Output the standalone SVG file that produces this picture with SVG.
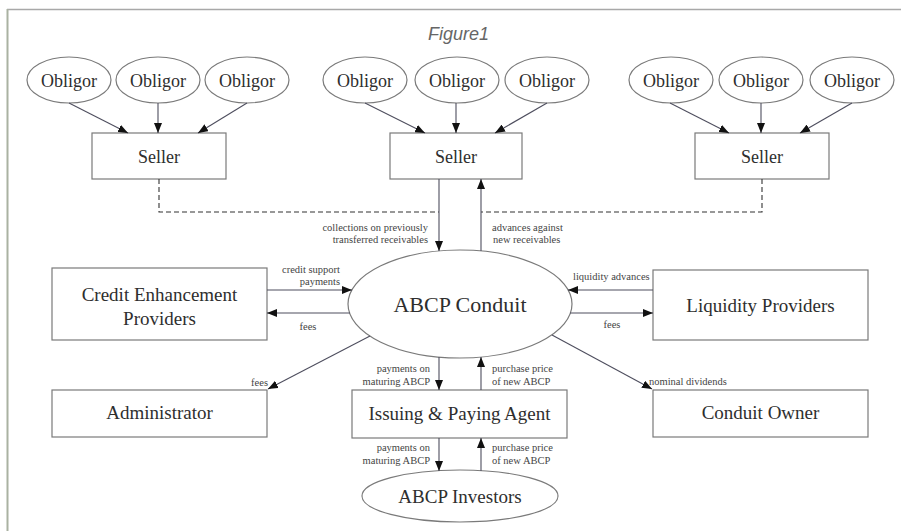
<svg xmlns="http://www.w3.org/2000/svg" width="901" height="531" viewBox="0 0 901 531">
<style>
.node{fill:#fff;stroke:#7a7a7a;stroke-width:1.2}
.t{font-family:"Liberation Serif","Times New Roman",serif;fill:#2e2e2e;text-anchor:middle}
.ob{font-size:18px}
.big{font-size:19px}
.lbl{font-family:"Liberation Serif","Times New Roman",serif;font-size:10.5px;fill:#444}
.e{text-anchor:end}
.m{text-anchor:middle}
.c{fill:none;stroke:#4e4e5e;stroke-width:1.1}
.d{fill:none;stroke:#333;stroke-width:1.1;stroke-dasharray:5 3}
</style>
<defs>
<marker id="ah" viewBox="0 0 10 8" refX="10" refY="4" markerWidth="10" markerHeight="8" markerUnits="userSpaceOnUse" orient="auto"><path d="M0,0 L10,4 L0,8 z" fill="#111"/></marker>
</defs>
<rect width="901" height="531" fill="#fff"/>
<line x1="7" y1="9.5" x2="901" y2="9.5" stroke="#a8a8a8" stroke-width="1.5"/>
<line x1="7.5" y1="9" x2="7.5" y2="531" stroke="#aab2a2" stroke-width="2"/>
<text x="428" y="40" font-family="'Liberation Sans',Arial,sans-serif" font-style="italic" font-size="18" fill="#666">Figure1</text>

<g id="obligor1"><ellipse class="node" cx="69" cy="80" rx="42" ry="23"/><text class="t ob" x="69" y="87">Obligor</text></g>
<g id="obligor2"><ellipse class="node" cx="158" cy="80" rx="42" ry="23"/><text class="t ob" x="158" y="87">Obligor</text></g>
<g id="obligor3"><ellipse class="node" cx="247" cy="80" rx="42" ry="23"/><text class="t ob" x="247" y="87">Obligor</text></g>
<g id="obligor4"><ellipse class="node" cx="365" cy="80" rx="42" ry="23"/><text class="t ob" x="365" y="87">Obligor</text></g>
<g id="obligor5"><ellipse class="node" cx="457" cy="80" rx="42" ry="23"/><text class="t ob" x="457" y="87">Obligor</text></g>
<g id="obligor6"><ellipse class="node" cx="547" cy="80" rx="42" ry="23"/><text class="t ob" x="547" y="87">Obligor</text></g>
<g id="obligor7"><ellipse class="node" cx="671" cy="80" rx="42" ry="23"/><text class="t ob" x="671" y="87">Obligor</text></g>
<g id="obligor8"><ellipse class="node" cx="761" cy="80" rx="42" ry="23"/><text class="t ob" x="761" y="87">Obligor</text></g>
<g id="obligor9"><ellipse class="node" cx="852" cy="80" rx="42" ry="23"/><text class="t ob" x="852" y="87">Obligor</text></g>

<g id="seller1"><rect class="node" x="92" y="133" width="134" height="46"/><text class="t ob" x="159" y="163">Seller</text></g>
<g id="seller2"><rect class="node" x="390" y="133" width="132" height="46"/><text class="t ob" x="456" y="163">Seller</text></g>
<g id="seller3"><rect class="node" x="695" y="133" width="134" height="46"/><text class="t ob" x="762" y="163">Seller</text></g>

<g id="conduit"><ellipse class="node" cx="460" cy="304" rx="112" ry="54"/><text class="t" font-size="22" x="460" y="312">ABCP Conduit</text></g>
<g id="credit"><rect class="node" x="52" y="268" width="215" height="72"/><text class="t big" x="159.5" y="301">Credit Enhancement</text><text class="t big" x="159.5" y="325">Providers</text></g>
<g id="liquidity"><rect class="node" x="653" y="270" width="215" height="70"/><text class="t big" x="760.5" y="312">Liquidity Providers</text></g>
<g id="admin"><rect class="node" x="52" y="390" width="215" height="47"/><text class="t big" x="159.5" y="419">Administrator</text></g>
<g id="ipa"><rect class="node" x="352" y="390" width="215" height="48"/><text class="t big" x="459.5" y="420">Issuing &amp; Paying Agent</text></g>
<g id="owner"><rect class="node" x="653" y="390" width="215" height="47"/><text class="t big" x="760.5" y="419">Conduit Owner</text></g>
<g id="investors"><ellipse class="node" cx="460" cy="496" rx="98" ry="26"/><text class="t big" x="460" y="503">ABCP Investors</text></g>

<g id="connectors">
<line class="c" x1="69" y1="103" x2="128" y2="133" marker-end="url(#ah)"/>
<line class="c" x1="158" y1="103" x2="158" y2="133" marker-end="url(#ah)"/>
<line class="c" x1="247" y1="103" x2="198" y2="133" marker-end="url(#ah)"/>
<line class="c" x1="365" y1="103" x2="425" y2="133" marker-end="url(#ah)"/>
<line class="c" x1="456" y1="103" x2="456" y2="133" marker-end="url(#ah)"/>
<line class="c" x1="547" y1="103" x2="495" y2="133" marker-end="url(#ah)"/>
<line class="c" x1="670" y1="103" x2="729" y2="133" marker-end="url(#ah)"/>
<line class="c" x1="761" y1="103" x2="761" y2="133" marker-end="url(#ah)"/>
<line class="c" x1="852" y1="103" x2="800" y2="133" marker-end="url(#ah)"/>

<path class="d" d="M159,179 V212 H439"/>
<path class="d" d="M762,179 V212 H481"/>
<line class="c" x1="439" y1="179" x2="439" y2="251" marker-end="url(#ah)"/>
<line class="c" x1="481" y1="251" x2="481" y2="179" marker-end="url(#ah)"/>

<line class="c" x1="267" y1="290" x2="352" y2="290" marker-end="url(#ah)"/>
<line class="c" x1="350" y1="313" x2="267" y2="313" marker-end="url(#ah)"/>
<line class="c" x1="653" y1="290" x2="568" y2="290" marker-end="url(#ah)"/>
<line class="c" x1="570" y1="313" x2="653" y2="313" marker-end="url(#ah)"/>

<line class="c" x1="439" y1="357" x2="439" y2="390" marker-end="url(#ah)"/>
<line class="c" x1="481" y1="390" x2="481" y2="357" marker-end="url(#ah)"/>
<line class="c" x1="370" y1="336" x2="268" y2="389" marker-end="url(#ah)"/>
<line class="c" x1="552" y1="335" x2="652" y2="389" marker-end="url(#ah)"/>

<line class="c" x1="439" y1="438" x2="439" y2="471" marker-end="url(#ah)"/>
<line class="c" x1="481" y1="471" x2="481" y2="438" marker-end="url(#ah)"/>

<text class="lbl e" x="428" y="231">collections on previously</text>
<text class="lbl e" x="428" y="243">transferred receivables</text>
<text class="lbl" x="492" y="231">advances against</text>
<text class="lbl" x="493" y="243">new receivables</text>
<text class="lbl e" x="340" y="273">credit support</text>
<text class="lbl e" x="340" y="285">payments</text>
<text class="lbl m" x="308" y="330">fees</text>
<text class="lbl" x="573" y="280">liquidity advances</text>
<text class="lbl m" x="612" y="328">fees</text>
<text class="lbl e" x="430" y="372">payments on</text>
<text class="lbl e" x="430" y="385">maturing ABCP</text>
<text class="lbl" x="492" y="372">purchase price</text>
<text class="lbl" x="492" y="385">of new ABCP</text>
<text class="lbl e" x="268" y="386">fees</text>
<text class="lbl" x="649" y="385">nominal dividends</text>
<text class="lbl e" x="430" y="451">payments on</text>
<text class="lbl e" x="430" y="464">maturing ABCP</text>
<text class="lbl" x="492" y="451">purchase price</text>
<text class="lbl" x="492" y="464">of new ABCP</text>
</g>
</svg>
